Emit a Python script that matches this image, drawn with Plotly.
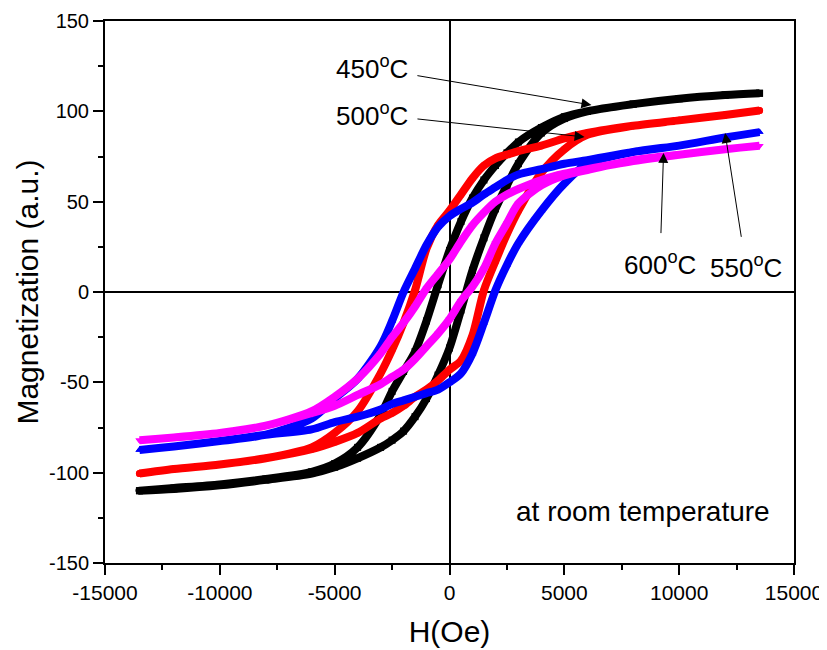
import plotly.graph_objects as go

# Applied field (Oe): descending branch then ascending branch
H_DESC = [13500, 12000, 10000, 8000, 6000, 5000, 4000, 3000, 2500, 2000, 1500, 1000, 500, 0,
          -500, -1000, -1500, -2000, -2500, -3000, -4000, -5000, -6000, -8000, -10000, -12000, -13500]
H_ASC = [-13500, -12000, -10000, -8000, -6000, -5000, -4000, -3000, -2500, -2000, -1500, -1000, -500, 0,
         500, 1000, 1500, 2000, 2500, 3000, 4000, 5000, 6000, 8000, 10000, 12000, 13500]

# 450 C (black)
M450_DESC = [110, 109, 107, 104, 100, 97, 91, 83, 77, 70, 62, 52, 39, 23,
             4, -16, -33, -44, -55, -68, -86, -95, -99.5, -103.5, -106.5, -108.5, -110]
M450_ASC = [-110, -109, -107, -104, -100.5, -97, -92, -86, -82, -77, -69, -59, -46, -31,
            -10, 12, 30, 46, 59, 71, 88, 96, 100, 104, 107, 109, 110]
# 500 C (red)
M500_DESC = [100.5, 98, 95, 92, 88, 85, 81, 78, 76, 74, 70, 63, 54, 45,
             37, 24, 1, -17, -32, -45, -66, -78, -86, -92, -95.5, -98, -100.5]
M500_ASC = [-100.5, -98, -95.5, -92, -87, -83, -78, -70, -67, -63, -58, -54, -49, -43,
            -38, -24, 1, 17, 32, 45, 66, 79, 87, 92, 95, 98, 100.5]
# 550 C (blue)
M550_DESC = [88.5, 85.5, 81, 77.5, 73, 71, 68, 65, 62, 58, 54, 49.5, 46, 42,
             36, 26, 13, 0, -16, -30, -48, -59, -70, -79, -82.5, -85.5, -87.5]
M550_ASC = [-87.5, -85.5, -82.5, -79, -76, -72, -69, -65, -62, -60, -58, -56, -54, -50,
            -45, -34, -17, 1, 15, 27, 45, 60, 71, 77.5, 81, 85.5, 88.5]
# 600 C (magenta)
M600_DESC = [81, 79, 76, 72.5, 68, 65.5, 62, 57, 54, 50, 44, 37, 28, 18,
             10, 2, -8, -17, -25, -34, -48, -58, -66, -74, -78, -80.5, -82]
M600_ASC = [-82, -80.5, -78, -74, -67, -63, -57, -51, -47, -43, -37, -30, -23, -15,
            -5, 3, 13, 27, 38, 49, 59, 64.5, 67.5, 73, 76, 79, 81]

X_TICKS = [-15000, -10000, -5000, 0, 5000, 10000, 15000]
X_TICKTEXT = ["-15000", "-10000", "-5000", "0", "5000", "10000", "15000"]
Y_TICKS = [-150, -100, -50, 0, 50, 100, 150]
Y_TICKTEXT = ["-150", "-100", "-50", "0", "50", "100", "150"]

FONT = "Liberation Sans, Arial, Helvetica, sans-serif"

series = [
    ("450°C", M450_DESC, M450_ASC, "black", "square"),
    ("500°C", M500_DESC, M500_ASC, "red", "circle"),
    ("550°C", M550_DESC, M550_ASC, "blue", "triangle-up"),
    ("600°C", M600_DESC, M600_ASC, "magenta", "triangle-down"),
]

fig = go.Figure()
for name, mdesc, masc, color, sym in series:
    fig.add_trace(go.Scatter(
        x=H_DESC + H_ASC, y=mdesc + masc, name=name, mode="lines+markers",
        line=dict(color=color, width=8, shape="spline", smoothing=0.8),
        marker=dict(color=color, symbol=sym, size=7),
        showlegend=False,
    ))

axis_common = dict(
    showline=True, linecolor="black", linewidth=2, mirror=True,
    ticks="outside", ticklen=10, tickwidth=1.5, tickcolor="black",
    showgrid=False, zeroline=True, zerolinecolor="black", zerolinewidth=1.5,
    automargin=False,
)

fig.update_xaxes(range=[-15000, 15000], tickvals=X_TICKS, ticktext=X_TICKTEXT,
                 tickfont=dict(family=FONT, size=21, color="black"),
                 minor=dict(dtick=2500, tick0=0, ticks="outside", ticklen=5, tickcolor="black", tickwidth=1.5),
                 title=dict(text="H(Oe)", font=dict(family=FONT, size=30, color="black"), standoff=18),
                 **axis_common)
fig.update_yaxes(range=[-150, 150], tickvals=Y_TICKS, ticktext=Y_TICKTEXT,
                 tickfont=dict(family=FONT, size=20, color="black"),
                 minor=dict(dtick=25, tick0=0, ticks="outside", ticklen=5, tickcolor="black", tickwidth=1.5),
                 title=dict(text="Magnetization (a.u.)", font=dict(family=FONT, size=30, color="black"), standoff=1),
                 **axis_common)

# Labels with arrows pointing to the curves: (text, text_x, text_y, head_x, head_y, start_standoff)
labels = [
    ("450<sup>o</sup>C", -3374, 124, 6180, 103.5, 8),
    ("500<sup>o</sup>C", -3374, 98.5, 5880, 85.8, 8),
    ("600<sup>o</sup>C", 9164, 16, 9320, 77.0, 12),
    ("550<sup>o</sup>C", 12908, 14, 12000, 88.0, 12),
]
for txt, tx, ty, hx, hy, sso in labels:
    fig.add_annotation(x=hx, y=hy, ax=tx, ay=ty, axref="x", ayref="y", xref="x", yref="y",
                       text=txt, showarrow=True, arrowhead=2, arrowsize=2, arrowwidth=1,
                       arrowcolor="black", standoff=0, startstandoff=sso,
                       font=dict(family=FONT, size=26, color="black"))

fig.add_annotation(x=8446, y=-121.7, xref="x", yref="y", text="at room temperature",
                   showarrow=False, font=dict(family=FONT, size=28, color="black"))

# The page body adds an 8px offset, so the figure is sized to fit the 827x650 window.
fig.update_layout(
    width=819, height=642,
    margin=dict(l=97, r=33, t=13, b=87),
    paper_bgcolor="white", plot_bgcolor="white",
    font=dict(family=FONT, color="black"),
)

fig.write_html("out.html")
